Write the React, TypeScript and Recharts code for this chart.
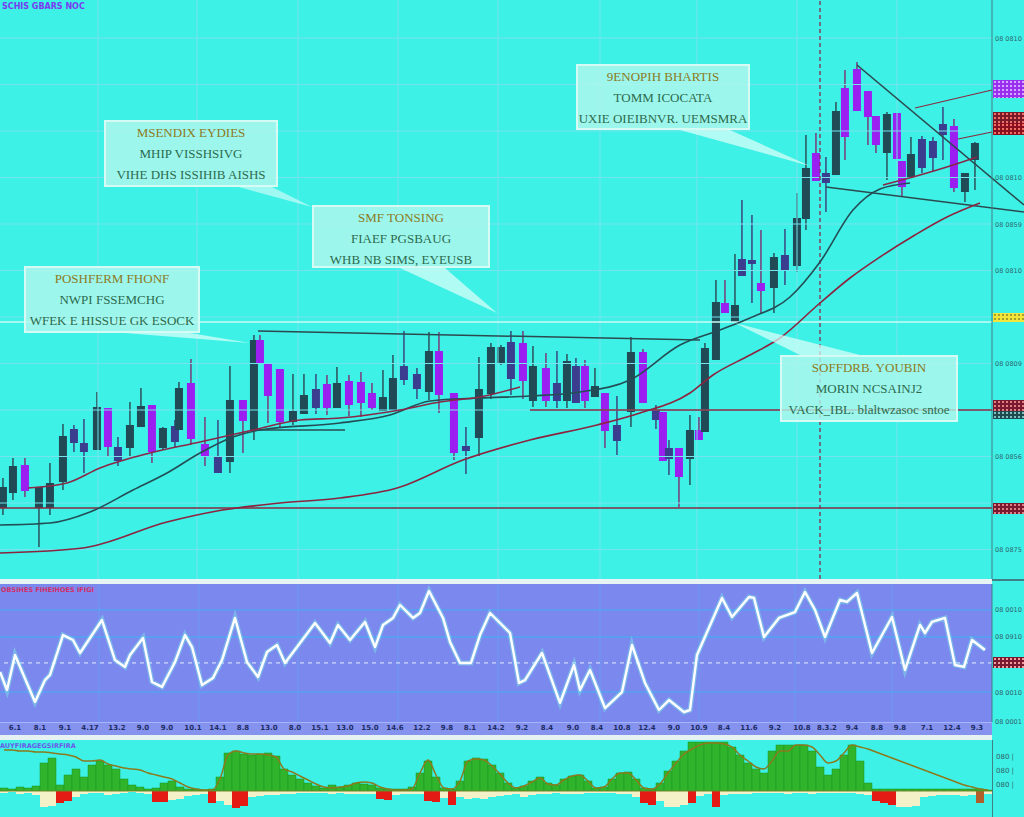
import React from "react";
import { ComposedChart, Bar, Line, XAxis, YAxis, ReferenceLine, Cell } from "recharts";

// candles: x position (time axis) and OHLC
const candleX = [3, 13, 25, 39, 50, 63, 74, 84, 97, 108, 118, 130, 141, 152, 163, 175, 179, 191, 205, 218, 230, 243, 254, 260, 268, 280, 293, 304, 316, 327, 337, 349, 361, 372, 383, 393, 404, 417, 429, 439, 454, 466, 479, 491, 501, 511, 523, 533, 546, 557, 567, 576, 585, 595, 605, 617, 631, 643, 656, 663, 669, 679, 690, 699, 705, 716, 725, 735, 742, 752, 761, 774, 785, 797, 806, 816, 826, 836, 845, 857, 868, 876, 887, 897, 902, 911, 922, 933, 943, 954, 965, 975];
const candleOpen = [92, 107, 135, 92, 92, 118, 171, 157, 150, 192, 153, 152, 173, 195, 152, 174, 170, 217, 156, 143, 138, 200, 170, 260, 237, 231, 178, 186, 211, 216, 192, 219, 218, 207, 189, 190, 234, 226, 208, 249, 207, 154, 162, 206, 237, 258, 257, 199, 232, 217, 199, 234, 234, 203, 207, 175, 188, 248, 190, 188, 152, 152, 141, 170, 168, 240, 297, 278, 341, 340, 317, 312, 345, 334, 381, 447, 427, 425, 512, 531, 509, 484, 447, 487, 439, 423, 461, 459, 476, 474, 408, 440];
const candleClose = [113, 134, 109, 113, 117, 164, 157, 148, 193, 153, 139, 175, 194, 148, 172, 158, 212, 161, 143, 127, 200, 179, 260, 237, 204, 178, 189, 205, 192, 192, 217, 195, 197, 192, 203, 222, 220, 211, 249, 205, 147, 149, 211, 253, 253, 221, 219, 234, 199, 199, 239, 197, 199, 214, 169, 159, 248, 197, 180, 139, 141, 123, 170, 160, 252, 298, 287, 295, 324, 336, 309, 343, 329, 382, 432, 419, 417, 489, 463, 489, 483, 455, 486, 441, 413, 446, 432, 442, 465, 412, 427, 457];
const candleHigh = [122, 142, 142, 113, 137, 176, 175, 181, 208, 192, 163, 198, 212, 195, 173, 180, 218, 241, 183, 180, 234, 200, 265, 265, 237, 231, 226, 226, 226, 225, 233, 225, 228, 217, 230, 245, 269, 232, 268, 268, 207, 173, 243, 257, 255, 269, 269, 254, 247, 249, 246, 242, 240, 232, 207, 204, 263, 251, 195, 188, 160, 152, 185, 183, 257, 320, 320, 346, 400, 385, 370, 347, 371, 407, 465, 467, 443, 498, 530, 538, 509, 484, 488, 487, 439, 463, 464, 463, 493, 481, 427, 458];
const candleLow = [85, 100, 103, 53, 85, 110, 148, 127, 150, 143, 134, 143, 173, 137, 150, 153, 170, 155, 134, 127, 127, 147, 160, 237, 177, 172, 175, 186, 186, 185, 192, 184, 183, 190, 189, 190, 215, 201, 200, 187, 140, 126, 143, 201, 235, 205, 201, 193, 193, 192, 192, 197, 192, 203, 152, 145, 173, 197, 171, 139, 125, 93, 115, 160, 168, 240, 287, 278, 324, 297, 287, 287, 315, 328, 370, 419, 388, 425, 440, 489, 455, 447, 420, 441, 403, 423, 427, 428, 440, 408, 398, 410];
const candleKind = ("ddpdddnndp" + "nddpdndppn" + "dpdpppddnp" + "dpppddnndp" + "pndddnpdpn" + "dnpdpndpnp" + "npdpddpdnn" + "pdnddpndpp" + "ppdppdnnnp" + "dd").split("");

// moving averages
const maLongX = [0, 83, 167, 217, 280, 340, 397, 463, 530, 597, 640, 690, 713, 750, 780, 820, 850, 880, 915, 947, 980];
const maLongV = [47, 52, 78, 89, 97, 102, 112, 140, 160, 175, 187, 207, 225, 245, 262, 297, 322, 343, 365, 383, 397];
const maMidX = [0, 50, 90, 133, 167, 200, 233, 260, 340, 390, 430, 480, 530, 580, 630, 680, 720, 750, 790, 820, 853, 880, 910];
const maMidV = [75, 77, 88, 110, 127, 147, 163, 170, 177, 185, 199, 202, 204, 208, 220, 255, 270, 282, 303, 338, 390, 411, 417];
const maShortX = [28, 67, 100, 150, 200, 253, 300, 340, 400, 440, 480, 520, 560, 883, 920, 950, 977];
const maShortV = [112, 117, 132, 147, 158, 170, 180, 182, 190, 198, 203, 213, null, 415, 425, 434, 443];

const mainTicks = [50.5, 97, 143.5, 190, 236.5, 283, 329.5, 376, 422.5, 469, 515.5, 562];
const mainTickLabels = ["08 0875", "", "08 0856", "", "08 0809", "", "08 0810", "08 0859", "08 0810", "", "", "08 0810"];
const gridX = [98, 197, 298, 398, 498, 600, 697, 797, 897];

// oscillator
const oscX = [0, 7, 15, 35, 45, 50, 63, 73, 80, 102, 115, 125, 130, 143, 152, 162, 175, 185, 192, 202, 213, 222, 235, 247, 258, 267, 277, 285, 315, 330, 338, 350, 365, 375, 383, 393, 400, 413, 420, 429, 443, 450, 460, 471, 480, 490, 510, 519, 525, 542, 560, 574, 580, 590, 605, 622, 632, 645, 659, 669, 684, 690, 697, 722, 732, 749, 754, 764, 779, 795, 805, 815, 825, 840, 847, 857, 872, 892, 905, 920, 925, 932, 945, 955, 964, 972, 985];
const oscV = [36.2, 23.2, 48.6, 14.5, 30.4, 34.1, 63.0, 59.4, 50.0, 73.9, 44.9, 39.9, 48.6, 60.9, 29.0, 25.4, 43.5, 63.0, 54.3, 26.8, 31.9, 44.9, 75.4, 43.5, 32.6, 50.7, 55.8, 42.8, 71.7, 57.2, 70.3, 59.4, 72.5, 54.3, 70.3, 75.4, 84.8, 75.4, 79.0, 94.9, 75.4, 58.0, 42.8, 42.8, 63.0, 79.0, 64.5, 28.3, 30.4, 50.0, 13.8, 41.3, 23.2, 37.7, 10.1, 21.7, 55.8, 28.3, 8.7, 15.9, 7.2, 8.7, 48.6, 89.9, 76.1, 90.6, 89.9, 61.6, 75.4, 79.7, 94.2, 81.2, 61.6, 88.4, 87.0, 93.5, 50.0, 76.1, 37.7, 70.3, 64.5, 72.5, 75.4, 41.3, 39.9, 59.4, 52.2];
const oscTickPos = [15, 40, 65, 90, 117, 143, 167, 193, 218, 243, 269, 295, 320, 345, 370, 395, 422, 447, 470, 496, 522, 547, 573, 597, 622, 647, 674, 699, 724, 749, 775, 802, 827, 852, 877, 900, 927, 952, 977];
const oscTickLabels = ["6.1", "8.1", "9.1", "4.17", "13.2", "9.0", "9.0", "10.1", "14.1", "8.8", "13.0", "8.0", "15.1", "13.0", "15.0", "14.6", "12.2", "9.8", "8.1", "14.2", "9.2", "8.4", "9.0", "8.4", "10.8", "12.4", "9.0", "10.9", "8.4", "11.6", "9.2", "10.8", "8.3.2", "9.4", "8.8", "9.8", "7.1", "12.4", "9.3"];
const oscYTicks = [0.7, 21.7, 61.6, 81.2];
const oscYLabels = ["08 0001", "08 0010", "08 0910", "08 0010"];

// histogram panel (8px bins)
const histUp = [3, 2, 4, 3, 5, 28, 33, 6, 16, 22, 14, 26, 30, 26, 22, 12, 6, 4, 2, 3, 8, 10, 4, 2, 2, 1, 2, 14, 38, 40, 37, 36, 37, 38, 35, 22, 16, 12, 8, 5, 3, 6, 4, 6, 8, 7, 6, 3, 2, 2, 2, 4, 18, 30, 14, 3, 2, 10, 30, 33, 32, 26, 18, 8, 3, 5, 10, 14, 8, 6, 12, 15, 16, 10, 3, 4, 12, 18, 19, 12, 3, 2, 8, 20, 30, 40, 49, 49, 49, 49, 49, 44, 36, 28, 22, 18, 40, 46, 46, 46, 46, 40, 24, 16, 22, 36, 46, 30, 8, 2, 2, 2, 2, 2, 2, 2, 2, 2, 2, 2, 2, 2, 2, 1];
const histDown = [-2, -1, -3, -2, -4, -16, -15, -12, -10, -6, -3, -2, -2, -4, -3, -2, -1, -2, -3, -11, -11, -9, -8, -5, -4, -3, -12, -10, -14, -17, -15, -6, -5, -4, -4, -3, -3, -2, -2, -2, -2, -3, -2, -3, -3, -3, -3, -8, -9, -4, -3, -3, -3, -10, -11, -7, -14, -6, -8, -7, -8, -6, -5, -4, -3, -6, -4, -3, -3, -2, -3, -3, -3, -2, -2, -2, -2, -3, -3, -6, -12, -14, -10, -16, -16, -14, -12, -5, -3, -16, -4, -3, -3, -3, -2, -2, -2, -2, -3, -2, -2, -3, -2, -2, -2, -2, -2, -3, -4, -10, -12, -14, -16, -16, -15, -6, -5, -4, -4, -4, -5, -4, -12, -3];
const histKind = ("cccccccrrc" + "cccccccccr" + "rcccccrccr" + "rccccccccc" + "cccccccrrc" + "cccrrcrccc" + "cccccccccc" + "cccccccccc" + "rrccccrccr" + "cccccccccc" + "cccccccccr" + "rrcccccccc" + "ccoc").split("");
const histSig = [41, 41, 40, 40, 39, 39, 38, 37, 36, 34, 30, 30, 31, 27, 25, 23, 22, 21, 18, 16, 14, 12, 8, 4, 2, 1, 1, 12, 36, 40, 38, 37, 37, 36, 34, 22, 19, 15, 11, 7, 4, 3, 4, 5, 8, 9, 8, 4, 2, 1, 1, 2, 18, 31, 16, 3, 2, 10, 30, 32, 31, 25, 17, 8, 3, 5, 9, 13, 7, 6, 11, 15, 16, 10, 3, 4, 12, 18, 18, 11, 3, 2, 7, 18, 28, 37, 42, 46, 48, 48, 47, 44, 36, 30, 24, 22, 30, 40, 40, 46, 46, 44, 36, 28, 30, 38, 46, 44, 42, 39, 36, 33, 30, 27, 24, 21, 18, 15, 12, 9, 6, 4, 2, 1];

const BG = "#3ef1e6";
const GRID = "#74e3ec";
const BODY: Record<string, string> = { d: "#1f4a56", p: "#9a1ff0", n: "#3b3e8e" };
const WICK: Record<string, string> = { d: "#2a4550", p: "#7e2c72", n: "#3a3a78" };

function Candle(props: any) {
  const { x, y, width, height, payload } = props;
  if (!payload || height == null) return null;
  const top = Math.min(y, y + height);
  const h = Math.abs(height);
  const { open, close, high, low, kind } = payload;
  const k = h / (high - low);
  const cx = x + width / 2;
  const bTop = top + (high - Math.max(open, close)) * k;
  const bBot = top + (high - Math.min(open, close)) * k;
  return (
    <g>
      <line x1={cx} x2={cx} y1={top} y2={top + h} stroke={WICK[kind]} strokeWidth={1.4} />
      <rect x={cx - 4} y={bTop} width={8} height={Math.max(2, bBot - bTop)} fill={BODY[kind]} />
    </g>
  );
}

// right axis label, kept on one line
function makeTick(values: number[], labels: string[], fill: string) {
  return (props: any) => {
    const { x, y, payload } = props;
    const label = labels[values.indexOf(payload.value)] || "";
    return (
      <text x={x} y={y} dy={2.5} fontSize={6.5} fill={fill} textAnchor="start" fontFamily="DejaVu Sans">
        {label}
      </text>
    );
  };
}

const callouts = [
  { left: 104, top: 120, w: 174, h: 67, lines: ["MSENDIX EYDIES", "MHIP VISSHSIVG", "VIHE DHS ISSIHIB AISHS"] },
  { left: 312, top: 205, w: 178, h: 63, lines: ["SMF TONSING", "FIAEF PGSBAUG", "WHB NB SIMS, EYEUSB"] },
  { left: 24, top: 266, w: 176, h: 67, lines: ["POSHFERM FHONF", "NWPI FSSEMCHG", "WFEK E HISSUE GK ESOCK"] },
  { left: 576, top: 64, w: 174, h: 66, lines: ["9ENOPIH BHARTIS", "TOMM ICOCATA", "UXIE OIEIBNVR. UEMSMRA"] },
  { left: 780, top: 355, w: 178, h: 67, lines: ["SOFFDRB. YOUBIN", "MORIN NCSAINJ2", "VACK_IBL. blaltwzasoc sntoe"] },
];

const tags = [
  { top: 80, h: 18, c: "#9a2ff0", dot: "rgba(230,200,255,0.8)" },
  { top: 112, h: 11, c: "#7a1a28", dot: "rgba(255,120,110,0.9)" },
  { top: 123, h: 12, c: "#8a1020", dot: "rgba(255,120,110,0.9)" },
  { top: 313, h: 9, c: "#f2e63a", dot: "rgba(150,140,40,0.8)" },
  { top: 400, h: 11, c: "#7a1a30", dot: "rgba(255,150,150,0.8)" },
  { top: 411, h: 8, c: "#1e4a50", dot: "rgba(150,220,220,0.8)" },
  { top: 503, h: 11, c: "#7a1a30", dot: "rgba(255,150,150,0.8)" },
  { top: 657, h: 11, c: "#7a1a30", dot: "rgba(255,170,170,0.9)" },
];

export default function App() {
  const candles = candleX.map((x, i) => ({
    x,
    open: candleOpen[i],
    close: candleClose[i],
    high: candleHigh[i],
    low: candleLow[i],
    kind: candleKind[i],
    range: [candleLow[i], candleHigh[i]],
  }));
  const maLong = maLongX.map((x, i) => ({ x, v: maLongV[i] }));
  const maMid = maMidX.map((x, i) => ({ x, v: maMidV[i] }));
  const maShort = maShortX.map((x, i) => ({ x, v: maShortV[i] }));
  const osc = oscX.map((x, i) => ({ x, v: oscV[i] }));
  const hist = histUp.map((u, i) => ({ i, up: u, down: histDown[i], sig: histSig[i] }));

  return (
    <div style={{ position: "absolute", left: 0, top: 0, width: 1024, height: 817, overflow: "hidden", background: BG, fontFamily: "DejaVu Sans" }}>
      {/* main price panel */}
      <div style={{ position: "absolute", left: 0, top: 0 }}>
        <ComposedChart width={1024} height={579} data={candles} margin={{ top: 0, right: 0, bottom: 0, left: 0 }}>
          <XAxis dataKey="x" type="number" domain={[0, 992]} allowDataOverflow hide />
          <YAxis
            orientation="right"
            width={32}
            domain={[21, 600]}
            allowDataOverflow
            ticks={mainTicks}
            interval={0}
            axisLine={{ stroke: "#3f7f86" }}
            tickLine={false}
            tickSize={0}
            tickMargin={3}
            tick={makeTick(mainTicks, mainTickLabels, "#2e6870")}
          />
          {mainTicks.map((t) => (
            <ReferenceLine key={"h" + t} y={t} stroke={GRID} strokeWidth={1} />
          ))}
          {gridX.map((g) => (
            <ReferenceLine key={"v" + g} x={g} stroke={GRID} strokeWidth={1} />
          ))}
          <ReferenceLine y={278} stroke="#c9fbf4" strokeWidth={1.6} />
          <ReferenceLine y={92} stroke="#8a2a42" strokeWidth={1.3} />
          <ReferenceLine segment={[{ x: 530, y: 190 }, { x: 992, y: 190 }]} stroke="#8a2a42" strokeWidth={1.3} />
          <ReferenceLine segment={[{ x: 250, y: 170 }, { x: 345, y: 170 }]} stroke="#2b4a50" strokeWidth={1.3} />
          <ReferenceLine segment={[{ x: 258, y: 269 }, { x: 700, y: 260 }]} stroke="#2b4a50" strokeWidth={1.5} />
          <ReferenceLine segment={[{ x: 857, y: 535 }, { x: 1024, y: 395 }]} stroke="#2b4a50" strokeWidth={1.6} ifOverflow="visible" />
          <ReferenceLine segment={[{ x: 826, y: 413 }, { x: 1024, y: 388 }]} stroke="#2b4a50" strokeWidth={1.4} ifOverflow="visible" />
          <ReferenceLine segment={[{ x: 915, y: 492 }, { x: 992, y: 510 }]} stroke="#8a2a42" strokeWidth={1.2} />
          <ReferenceLine segment={[{ x: 958, y: 461 }, { x: 992, y: 468 }]} stroke="#8a2a42" strokeWidth={1.2} />
          <ReferenceLine x={820} stroke="#8a2a50" strokeWidth={1.3} strokeDasharray="4 3" />
          <Line data={maLong} dataKey="v" type="monotone" stroke="#8c2440" strokeWidth={1.6} dot={false} isAnimationActive={false} />
          <Line data={maMid} dataKey="v" type="monotone" stroke="#234e56" strokeWidth={1.6} dot={false} isAnimationActive={false} />
          <Line data={maShort} dataKey="v" type="monotone" stroke="#8a2848" strokeWidth={1.6} dot={false} connectNulls={false} isAnimationActive={false} />
          <Bar dataKey="range" barSize={8} shape={<Candle />} isAnimationActive={false} />
        </ComposedChart>
      </div>

      <div style={{ position: "absolute", left: 2, top: 2, fontSize: 8, fontWeight: 700, color: "#7a3af0" }}>SCHIS GBARS NOC</div>

      {/* callouts */}
      <svg width={1024} height={579} style={{ position: "absolute", left: 0, top: 0, pointerEvents: "none" }}>
        <polygon points="125,333 190,333 250,343" fill="rgba(225,255,250,0.7)" />
        <polygon points="235,186 270,186 312,207" fill="rgba(225,255,250,0.6)" />
        <polygon points="400,268 445,268 497,313" fill="rgba(225,255,250,0.7)" />
        <polygon points="680,130 730,130 810,166" fill="rgba(225,255,250,0.7)" />
        <polygon points="735,323 800,355 860,355" fill="rgba(225,255,250,0.7)" />
      </svg>
      {callouts.map((c, i) => (
        <div
          key={i}
          style={{
            position: "absolute",
            left: c.left,
            top: c.top,
            width: c.w,
            height: c.h,
            boxSizing: "border-box",
            background: "rgba(180,248,238,0.8)",
            border: "2px solid #d6fbf4",
            textAlign: "center",
            fontFamily: "Liberation Serif",
            fontSize: 13,
            lineHeight: "21px",
            whiteSpace: "nowrap",
          }}
        >
          {c.lines.map((l, j) => (
            <div key={j} style={{ color: j === 0 ? "#8c7a22" : "#2c6b4c" }}>{l}</div>
          ))}
        </div>
      ))}

      {/* separator */}
      <div style={{ position: "absolute", left: 0, top: 579, width: 992, height: 5, background: "#e8f4f4" }} />
      <div style={{ position: "absolute", left: 992, top: 579, width: 32, height: 1.5, background: "#3f7f86" }} />

      {/* oscillator panel */}
      <div style={{ position: "absolute", left: 0, top: 584, width: 992, height: 138, background: "#7b88ee" }} />
      <div style={{ position: "absolute", left: 0, top: 722, width: 992, height: 13, background: "#8592ee", borderTop: "1px solid #a7b4f7", boxSizing: "border-box" }} />
      <div style={{ position: "absolute", left: 0, top: 584 }}>
        <ComposedChart width={1024} height={151} data={osc} margin={{ top: 0, right: 0, bottom: 0, left: 0 }}>
          <XAxis
            dataKey="x"
            type="number"
            domain={[0, 992]}
            allowDataOverflow
            ticks={oscTickPos}
            interval={0}
            tickFormatter={(v: number) => oscTickLabels[oscTickPos.indexOf(v)] || ""}
            height={13}
            axisLine={false}
            tickLine={false}
            tickSize={0}
            tickMargin={3}
            tick={{ fontSize: 7, fill: "#1d2c66", fontWeight: 700 }}
          />
          <YAxis
            orientation="right"
            width={32}
            domain={[0, 100]}
            allowDataOverflow
            ticks={oscYTicks}
            interval={0}
            axisLine={{ stroke: "#3f7f86" }}
            tickLine={false}
            tickSize={0}
            tickMargin={3}
            tick={makeTick(oscYTicks, oscYLabels, "#2e5f6a")}
          />
          {[21.7, 61.6, 81.2].map((t) => (
            <ReferenceLine key={t} y={t} stroke="#4fa6f2" strokeWidth={1.3} />
          ))}
          {[99, 199, 298, 398, 498, 600, 699, 795, 892].map((g) => (
            <ReferenceLine key={"v" + g} x={g} stroke="#6c9cf0" strokeWidth={1} />
          ))}
          <ReferenceLine y={42.8} stroke="#e8f0ff" strokeWidth={1} strokeDasharray="4 4" />
          <Line dataKey="v" type="linear" stroke="#7ff6e6" strokeWidth={5} strokeOpacity={0.4} dot={false} isAnimationActive={false} />
          <Line dataKey="v" type="linear" stroke="#ffffff" strokeWidth={2.4} strokeLinejoin="round" dot={false} isAnimationActive={false} />
        </ComposedChart>
      </div>
      <div style={{ position: "absolute", left: 1, top: 586, fontSize: 6.5, fontWeight: 700, color: "#d0306a" }}>OBSIHES FIHEIHOES IFIGI</div>

      {/* separator */}
      <div style={{ position: "absolute", left: 0, top: 735, width: 992, height: 5, background: "#e6f2f2" }} />

      {/* histogram panel */}
      <div style={{ position: "absolute", left: 0, top: 740 }}>
        <ComposedChart width={1024} height={77} data={hist} margin={{ top: 0, right: 32, bottom: 0, left: 0 }} barCategoryGap={0} barGap={0} stackOffset="sign">
          <XAxis dataKey="i" hide />
          <YAxis hide domain={[-26, 51]} allowDataOverflow />
          <Bar dataKey="up" stackId="h" fill="#2fb42c" stroke="#1f9422" strokeWidth={0.5} isAnimationActive={false} />
          <Bar dataKey="down" stackId="h" isAnimationActive={false}>
            {histKind.map((k, i) => (
              <Cell key={i} fill={k === "r" ? "#e41b14" : k === "o" ? "#b0602a" : "#f4f1c9"} />
            ))}
          </Bar>
          <ReferenceLine y={0} stroke="#6e8a2a" strokeWidth={1} />
          <Line dataKey="sig" type="monotone" stroke="#8b7a1e" strokeWidth={1.5} dot={false} isAnimationActive={false} />
        </ComposedChart>
      </div>
      <div style={{ position: "absolute", left: 0, top: 742, fontSize: 6.5, fontWeight: 700, color: "#6a5ae8" }}>AUYFIRAGEGSIRFIRA</div>
      <div style={{ position: "absolute", left: 992, top: 740, width: 1, height: 77, background: "#3f7f86" }} />
      {[753, 767, 781].map((t) => (
        <div key={t} style={{ position: "absolute", left: 996, top: t, fontSize: 7, color: "#2e5f6a" }}>080 |</div>
      ))}

      {/* right axis tags */}
      {tags.map((t, i) => (
        <div
          key={i}
          style={{
            position: "absolute",
            left: 993,
            top: t.top,
            width: 31,
            height: t.h,
            background: t.c,
            backgroundImage: `radial-gradient(circle, ${t.dot} 0.9px, transparent 1.3px)`,
            backgroundSize: "4px 4px",
          }}
        />
      ))}
    </div>
  );
}
